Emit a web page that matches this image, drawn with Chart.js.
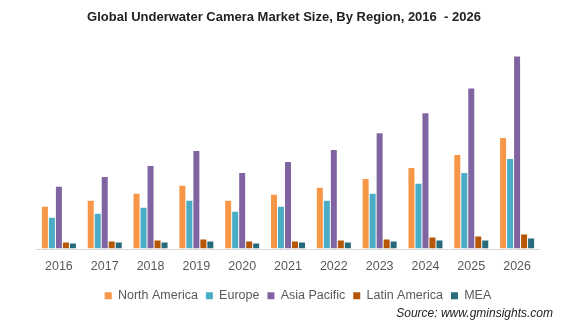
<!DOCTYPE html>
<html>
<head>
<meta charset="utf-8">
<script src="https://cdn.jsdelivr.net/npm/chart.js@4/dist/chart.umd.min.js"></script>
<style>
  html, body { margin: 0; padding: 0; background: #fff; }
  #wrap { position: relative; width: 568px; height: 326px; }
  #source { position: absolute; right: 15px; top: 306px; font: italic 12px "Liberation Sans", Arial, sans-serif; color: #222; }
</style>
</head>
<body>
<div id="wrap">
  <canvas id="c" width="568" height="326"></canvas>
  <div id="source">Source: www.gminsights.com</div>
</div>
<script>
const years = ["2016","2017","2018","2019","2020","2021","2022","2023","2024","2025","2026"];
const northAmerica = [42, 48, 55, 63, 48, 54, 61, 70, 81, 94, 111];
const europe       = [31, 35, 41, 48, 37, 42, 48, 55, 65, 76, 90];
const asiaPacific  = [62, 72, 83, 98, 76, 87, 99, 116, 136, 161, 193];
const latinAmerica = [6, 7, 8, 9, 7, 7, 8, 9, 11, 12, 14];
const mea          = [5, 6, 6, 7, 5, 6, 6, 7, 8, 8, 10];

const seriesNames = ["North America", "Europe", "Asia Pacific", "Latin America", "MEA"];
const seriesColors = ["#F79646", "#4BACC6", "#8064A2", "#B65708", "#276A7C"];
const seriesData = [northAmerica, europe, asiaPacific, latinAmerica, mea];

const baseline = {
  id: "baseline",
  afterLayout(chart) {
    if (chart.titleBlock) { chart.titleBlock.left -= 4; chart.titleBlock.right -= 4; }
    if (chart.legend) { chart.legend.left += 10; chart.legend.right += 10; }
  },
  afterDatasetsDraw(chart) {
    const a = chart.chartArea, ctx = chart.ctx;
    ctx.save();
    ctx.strokeStyle = "#d9d9d9";
    ctx.lineWidth = 1;
    ctx.beginPath();
    ctx.moveTo(a.left, Math.round(a.bottom) + 0.5);
    ctx.lineTo(a.right, Math.round(a.bottom) + 0.5);
    ctx.stroke();
    ctx.restore();
  }
};

new Chart(document.getElementById("c"), {
  type: "bar",
  data: {
    labels: years,
    datasets: seriesNames.map((n, i) => ({
      label: n,
      data: seriesData[i],
      backgroundColor: seriesColors[i],
      borderWidth: 0,
      categoryPercentage: 0.764,
      barPercentage: 0.857
    }))
  },
  options: {
    responsive: false,
    animation: false,
    layout: { padding: { left: 36, right: 28, top: 0, bottom: 14 } },
    plugins: {
      title: {
        display: true,
        text: "Global Underwater Camera Market Size, By Region, 2016  - 2026",
        color: "#222",
        font: { family: "'Liberation Sans', Arial, sans-serif", size: 13, weight: "bold" },
        padding: { top: 10, bottom: 24 }
      },
      legend: {
        position: "bottom",
        labels: {
          boxWidth: 7, boxHeight: 7,
          color: "#595959",
          font: { family: "'Liberation Sans', Arial, sans-serif", size: 12.5 },
          padding: 8
        }
      },
      tooltip: { enabled: false }
    },
    scales: {
      x: {
        grid: { display: false },
        border: { display: false },
        ticks: { color: "#595959", font: { family: "'Liberation Sans', Arial, sans-serif", size: 12.5 }, padding: 3 },
        afterFit(scale) { scale.height += 4; }
      },
      y: { display: false, min: 0, max: 200 }
    }
  },
  plugins: [baseline]
});
</script>
</body>
</html>
